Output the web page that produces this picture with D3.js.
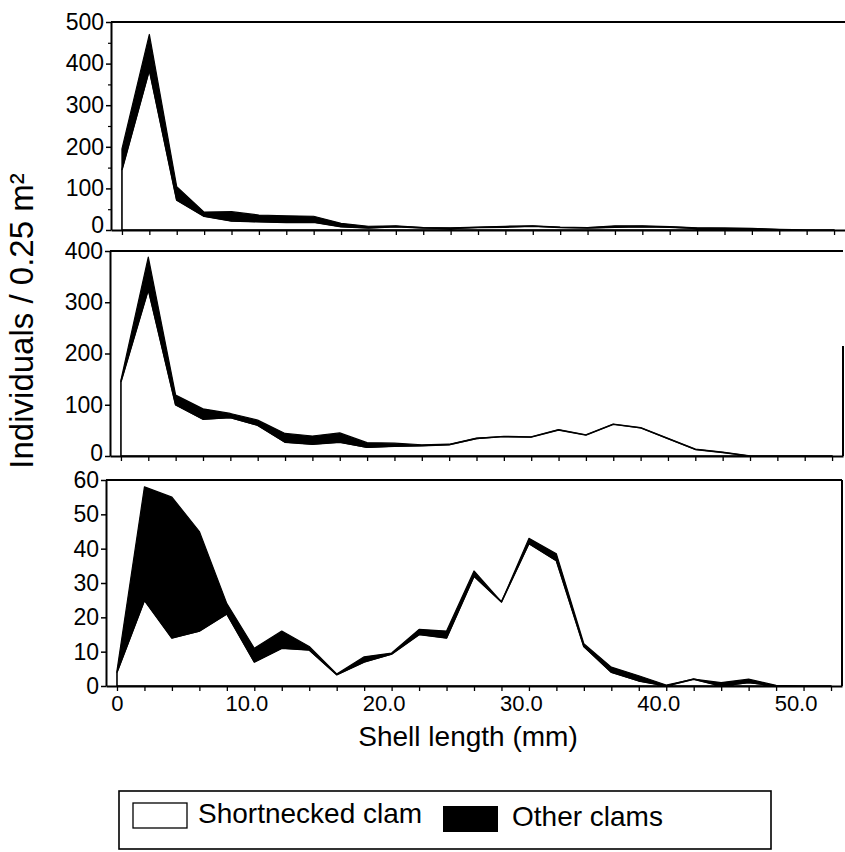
<!DOCTYPE html>
<html><head><meta charset="utf-8">
<script src="https://cdn.jsdelivr.net/npm/d3@7"></script>
<style>
body{margin:0;background:#fff}
svg{display:block}
text{font-family:"Liberation Sans",Arial,Helvetica,sans-serif;fill:#000}
</style>
</head><body>
<svg id="c" width="845" height="852"></svg>
<script>
// ---- data (shell length class, mm) ----
const sizes = [0,2,4,6,8,10,12,14,16,18,20,22,24,26,28,30,32,34,36,38,40,42,44,46,48,50,52];

// panel 1
const shortTop = [145,385,72,33,22,20,18,19,8,5,8,5,4,6,7,9,6,5,7,8,7,4,3,3,1,0,0];
const otherTop = [50,85,32,10,22,16,16,14,8,4,2,1,1,1,2,1,1,1,3,2,1,1,2,1,0,0,0];
// panel 2
const shortMid = [145,325,100,72,75,60,27,23,27,17,19,20,22,34,38,37,51,41,62,55,34,13,7,0,0,0,0];
const otherMid = [3,63,19,20,8,10,17,16,18,9,6,2,1,1,0,0,0,0,0,0,0,0,0,0,0,0,0];
// panel 3
const shortBot = [4,25,14,16,21,7,11,10.5,3.3,7,9.3,15,14,32,24.5,41.5,36.5,11.5,4,1.5,0,2,0,1,0,0,0];
const otherBot = [0.5,33,41,29,3,4,5,1,0.2,1.5,0.3,1.5,2,1.5,0,1.5,2,0.8,1.5,1.5,0.3,0,1,1,0.2,0,0];

const yTicksTop = [0,100,200,300,400,500];
const yMinorTop = [50,150,250,350,450];
const yTicksMid = [0,100,200,300,400];
const yTicksBot = [0,10,20,30,40,50,60];
const xTickLabels = [0,10,20,30,40,50];
const xDomain = [-0.8,52.8];

const yTitle = "Individuals / 0.25 m\u00B2";
const xTitle = "Shell length (mm)";
const legendLabels = ["Shortnecked clam","Other clams"];

// ---- layout ----
const panels = [
  {s:shortTop,o:otherTop,max:500,ticks:yTicksTop,minor:yMinorTop,l:111,r:845,t:22,b:230,labels:false,rightFrom:null,zeroDy:"0.12em"},
  {s:shortMid,o:otherMid,max:400,ticks:yTicksMid,minor:[],l:110,r:843,t:251,b:456,labels:false,rightFrom:346,zeroDy:"0.2em"},
  {s:shortBot,o:otherBot,max:60,ticks:yTicksBot,minor:[],l:106,r:842,t:480,b:686,labels:true,rightFrom:480,zeroDy:"0.32em"}
];

const svg = d3.select("#c");

panels.forEach(p=>{
  const x = d3.scaleLinear(xDomain,[p.l,p.r]);
  const y = d3.scaleLinear([0,p.max],[p.b,p.t]);
  const idx = d3.range(sizes.length);
  const g = svg.append("g");

  // white (shortnecked) area
  g.append("path")
    .attr("d", d3.area().x(i=>x(sizes[i])).y0(y(0)).y1(i=>y(p.s[i]))(idx))
    .attr("fill","#fff").attr("stroke","#000").attr("stroke-width",1.6)
    .attr("stroke-linejoin","round");
  // black (other clams) stacked on top
  g.append("path")
    .attr("d", d3.area().x(i=>x(sizes[i])).y0(i=>y(p.s[i])).y1(i=>y(p.s[i]+p.o[i]))(idx))
    .attr("fill","#000").attr("stroke","#000").attr("stroke-width",1.2)
    .attr("stroke-linejoin","round");

  // frame (top and right)
  g.append("line").attr("x1",p.l).attr("x2",p.r).attr("y1",p.t).attr("y2",p.t)
    .attr("stroke","#000").attr("stroke-width",2);
  if(p.rightFrom!==null){
    g.append("line").attr("x1",p.r).attr("x2",p.r).attr("y1",p.rightFrom).attr("y2",p.b)
      .attr("stroke","#000").attr("stroke-width",2);
  }

  // left axis
  const ya = g.append("g").attr("transform",`translate(${p.l},0)`)
    .call(d3.axisLeft(y).tickValues(p.ticks).tickSize(5).tickSizeOuter(0).tickPadding(2).tickFormat(d3.format("d")));
  ya.select(".domain").attr("stroke-width",2);
  ya.selectAll(".tick line").attr("stroke-width",1.5);
  ya.selectAll("text").attr("font-size",23).attr("font-family",null)
    .attr("dy", d=> d===0 ? p.zeroDy : "0.32em");
  if(p.minor.length){
    const ym = g.append("g").attr("transform",`translate(${p.l},0)`)
      .call(d3.axisLeft(y).tickValues(p.minor).tickSize(3).tickSizeOuter(0).tickFormat(""));
    ym.select(".domain").remove();
    ym.selectAll(".tick line").attr("stroke-width",1.2);
  }

  // bottom axis (ticks every 2 mm)
  const xa = g.append("g").attr("transform",`translate(0,${p.b})`)
    .call(d3.axisBottom(x).tickValues(sizes).tickSize(5).tickSizeOuter(0).tickFormat(""));
  xa.select(".domain").attr("stroke-width",2);
  xa.selectAll(".tick line").attr("stroke-width",1.3);

  if(p.labels){
    const xl = g.append("g").attr("transform",`translate(0,${p.b})`)
      .call(d3.axisBottom(x).tickValues(xTickLabels).tickSize(0).tickPadding(9)
        .tickFormat(d=> d===0 ? "0" : d3.format(".1f")(d)));
    xl.select(".domain").remove();
    xl.selectAll("text").attr("font-size",22).attr("font-family",null)
      .attr("dx", d=> d===0 ? 0 : -8);
  }
});

// axis titles
svg.append("text").attr("transform","translate(33,321) rotate(-90)")
  .attr("text-anchor","middle").attr("font-size",33).text(yTitle);
svg.append("text").attr("x",468).attr("y",746)
  .attr("text-anchor","middle").attr("font-size",28).text(xTitle);

// legend
const lg = svg.append("g");
lg.append("rect").attr("x",119).attr("y",791).attr("width",652).attr("height",58)
  .attr("fill","none").attr("stroke","#000").attr("stroke-width",1.6);
lg.append("rect").attr("x",133).attr("y",803).attr("width",54).attr("height",25)
  .attr("fill","#fff").attr("stroke","#000").attr("stroke-width",1.3);
lg.append("text").attr("x",198).attr("y",823).attr("font-size",28).text(legendLabels[0]);
lg.append("rect").attr("x",443).attr("y",806).attr("width",55).attr("height",26)
  .attr("fill","#000");
lg.append("text").attr("x",512).attr("y",826).attr("font-size",28).text(legendLabels[1]);
</script>
</body></html>
